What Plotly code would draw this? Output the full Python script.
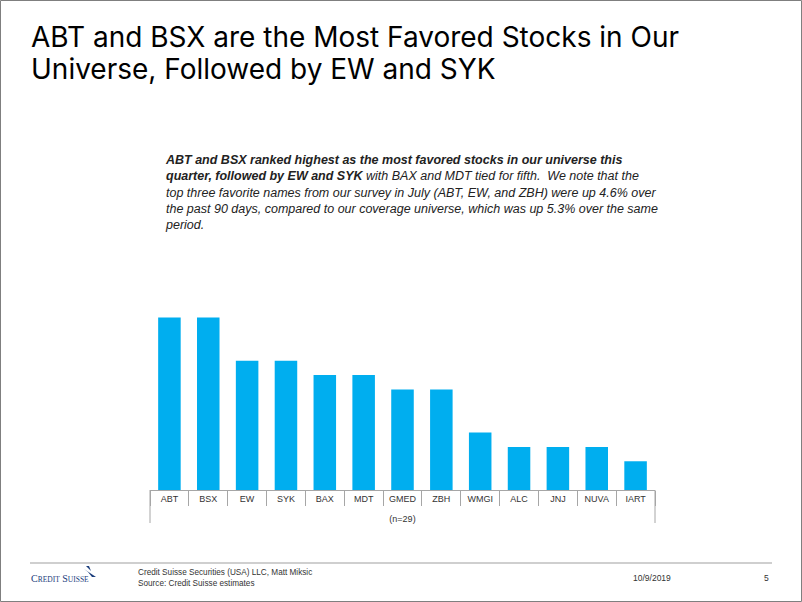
import plotly.graph_objects as go

W, H = 802, 602

# ---- data ----
tickers = ["ABT", "BSX", "EW", "SYK", "BAX", "MDT", "GMED", "ZBH", "WMGI", "ALC", "JNJ", "NUVA", "IART"]
votes = [12, 12, 9, 9, 8, 8, 7, 7, 4, 3, 3, 3, 2]
n_label = "(n=29)"

title_lines = ["ABT and BSX are the Most Favored Stocks in Our",
               "Universe, Followed by EW and SYK"]
body_text = (
    "<b><i>ABT and BSX ranked highest as the most favored stocks in our universe this</i></b><br>"
    "<b><i>quarter, followed by EW and SYK</i></b><i> with BAX and MDT tied for fifth.  We note that the</i><br>"
    "<i>top three favorite names from our survey in July (ABT, EW, and ZBH) were up 4.6% over</i><br>"
    "<i>the past 90 days, compared to our coverage universe, which was up 5.3% over the same</i><br>"
    "<i>period.</i>"
)
footer_left = "Credit Suisse Securities (USA) LLC, Matt Miksic<br>Source: Credit Suisse estimates"
footer_date = "10/9/2019"
page_no = "5"

# ---- layout geometry (pixels) ----
L, R, T, B = 150, 655, 300, 490
BLUE = "#00AEEF"
GRID = "#A6A6A6"
FONT = "Liberation Sans, Arial, sans-serif"

def px(x):
    return (x - L) / (R - L)

def py(y):
    return (B - y) / (B - T)

fig = go.Figure(
    go.Bar(
        x=tickers,
        y=votes,
        marker=dict(color=BLUE, line=dict(width=0)),
        hoverinfo="x+y",
    )
)

unit_px = 14.37
fig.update_layout(
    width=W,
    height=H,
    margin=dict(l=L, r=W - R, t=T, b=H - B),
    paper_bgcolor="white",
    plot_bgcolor="white",
    bargap=0.42,
    showlegend=False,
    font=dict(family=FONT, color="#333333"),
    xaxis=dict(
        type="category",
        showline=True,
        linecolor=GRID,
        linewidth=1,
        ticks="outside",
        tickson="boundaries",
        ticklen=15,
        tickcolor=GRID,
        tickwidth=1,
        tickfont=dict(size=9, color="#333333"),
        showgrid=False,
        title=dict(text=n_label, font=dict(size=9, color="#333333"), standoff=12),
        fixedrange=True,
    ),
    yaxis=dict(
        range=[0, (B - T) / unit_px],
        visible=False,
        showgrid=False,
        zeroline=False,
        fixedrange=True,
    ),
)

shapes = []
# longer outer lines of the category table
for xx in (L, R):
    shapes.append(dict(type="line", xref="paper", yref="paper",
                       x0=px(xx), x1=px(xx), y0=py(490), y1=py(523),
                       line=dict(color=GRID, width=1)))
# footer rule
shapes.append(dict(type="line", xref="paper", yref="paper",
                   x0=px(30), x1=px(772), y0=py(563), y1=py(563),
                   line=dict(color="#A0A0A0", width=1.2)))
# page border
shapes.append(dict(type="rect", xref="paper", yref="paper",
                   x0=px(0.5), x1=px(801.5), y0=py(0.5), y1=py(601.5),
                   line=dict(color="#7F7F7F", width=1)))
# logo sail
shapes.append(dict(type="path", xref="paper", yref="paper",
                   path=f"M {px(86)} {py(566)} L {px(91)} {py(571)} L {px(89)} {py(566)} Z",
                   fillcolor="#1A3D7C", line=dict(width=0)))
shapes.append(dict(type="path", xref="paper", yref="paper",
                   path=f"M {px(84)} {py(569)} L {px(96)} {py(577)} L {px(92)} {py(577)} L {px(88)} {py(572)} Z",
                   fillcolor="#1A3D7C", line=dict(width=0)))
fig.update_layout(shapes=shapes)

ann = []
for i, line in enumerate(title_lines):
    ann.append(dict(text=line, xref="paper", yref="paper", x=px(29), y=py(49 + 32 * i),
                    xanchor="left", yanchor="bottom", align="left", showarrow=False,
                    yshift=-7,
                    font=dict(family="Inter, Liberation Sans, Arial, sans-serif", size=28, color="#000000")))
ann.append(dict(text=body_text, xref="paper", yref="paper", x=px(163), y=py(151),
                xanchor="left", yanchor="top", align="left", showarrow=False,
                font=dict(family=FONT, size=12.5, color="#222222")))
ann.append(dict(text="C<span style='font-size:7.5px'>REDIT</span> S<span style='font-size:7.5px'>UISSE</span>",
                xref="paper", yref="paper", x=px(29), y=py(578),
                xanchor="left", yanchor="middle", showarrow=False,
                font=dict(family="Liberation Serif, Times New Roman, serif", size=10, color="#1A3D7C")))
ann.append(dict(text=footer_left, xref="paper", yref="paper", x=px(136), y=py(578),
                xanchor="left", yanchor="middle", align="left", showarrow=False,
                font=dict(family=FONT, size=8.2, color="#333333")))
ann.append(dict(text=footer_date, xref="paper", yref="paper", x=px(631), y=py(578),
                xanchor="left", yanchor="middle", showarrow=False,
                font=dict(family=FONT, size=8.5, color="#333333")))
ann.append(dict(text=page_no, xref="paper", yref="paper", x=px(771), y=py(578),
                xanchor="right", yanchor="middle", showarrow=False,
                font=dict(family=FONT, size=8.5, color="#333333")))
fig.update_layout(annotations=ann)

fig.write_html("out.html", config={"displayModeBar": False},
               post_script="document.body.style.margin='0';document.body.style.overflow='hidden';")
